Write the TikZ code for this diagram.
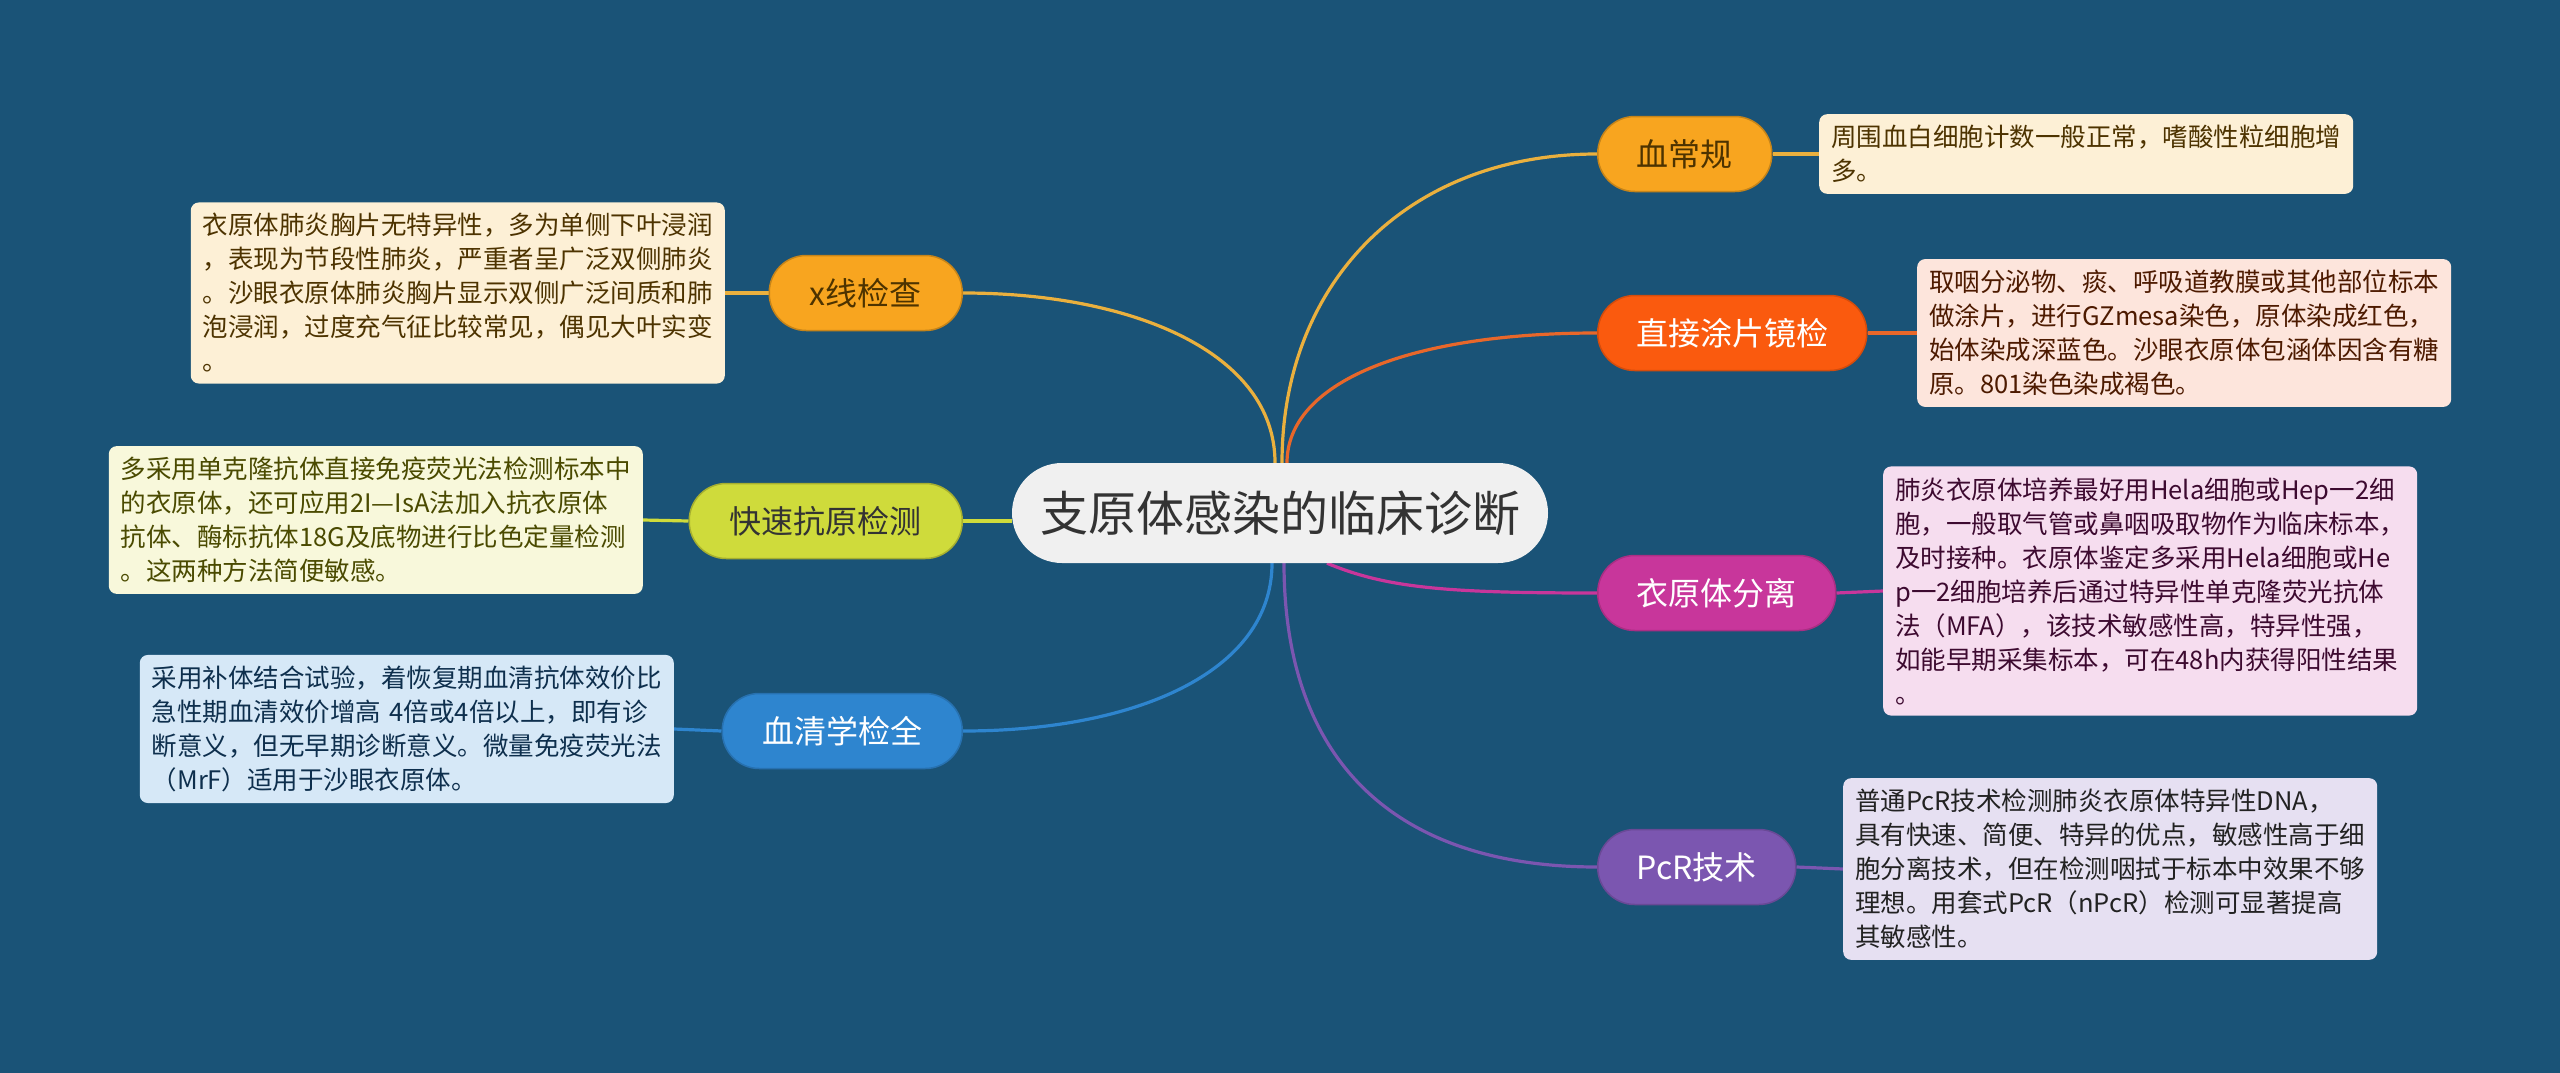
\documentclass[tikz,border=0pt]{standalone}
\usepackage{fontspec}
\setmainfont{Noto Sans CJK SC}
\pgfdeclarelayer{back}
\pgfdeclarelayer{lines}
\pgfsetlayers{back,lines,main}
\definecolor{bg}{HTML}{1A5377}
\definecolor{cyel}{HTML}{F8A51F}
\definecolor{lyel}{HTML}{EAB03E}
\definecolor{cora}{HTML}{FA5A0E}
\definecolor{lora}{HTML}{E8672A}
\definecolor{cmag}{HTML}{C8369B}
\definecolor{cpur}{HTML}{7B56B0}
\definecolor{clim}{HTML}{CFDB3B}
\definecolor{cblu}{HTML}{2E85CF}
\definecolor{fyel}{HTML}{FDF0D6}
\definecolor{fora}{HTML}{FDE5DC}
\definecolor{fmag}{HTML}{F6DDEF}
\definecolor{fpur}{HTML}{E6E0F2}
\definecolor{flim}{HTML}{F8F8DB}
\definecolor{fblu}{HTML}{D6E8F7}
\definecolor{tyel}{HTML}{4D3300}
\definecolor{tora}{HTML}{4D1A00}
\definecolor{tmag}{HTML}{3D0A30}
\definecolor{tpur}{HTML}{222222}
\definecolor{tlim}{HTML}{4A4A00}
\definecolor{tblu}{HTML}{0E2F4D}
\definecolor{cfill}{HTML}{F0F0F0}
\definecolor{ctext}{HTML}{333333}
\tikzset{
  pill/.style={rounded corners=37pt, minimum height=75pt, inner xsep=0pt,
    font=\fontsize{32}{38}\selectfont, line width=1.5pt},
  desc/.style={rounded corners=8pt, text width=510pt, align=left,
    inner xsep=12pt, inner ysep=11pt, font=\fontsize{25.5}{34}\selectfont},
  conn/.style={line width=3.2pt},
  link/.style={line width=3.2pt},
}
\begin{document}
\begin{tikzpicture}[x=1pt,y=-1pt]
\begin{pgfonlayer}{back}
\fill[bg] (0,0) rectangle (2560,1073);
\end{pgfonlayer}
\useasboundingbox (0,0) rectangle (2560,1073);

% central
\node[fill=cfill, text=ctext, rounded corners=50pt, minimum width=536pt, minimum height=100pt,
  font=\fontsize{48}{56}\selectfont] (c) at (1280,513) {支原体感染的临床诊断};

% right branches
\node[pill, fill=cyel, draw=cyel!80!black, text=tyel, minimum width=174pt, anchor=west] (xcg) at (1597,154) {血常规};
\node[pill, fill=cora, draw=cora!85!black, text=white, minimum width=269pt, anchor=west] (zj) at (1597,333) {直接涂片镜检};
\node[pill, fill=cmag, draw=cmag!85!black, text=white, minimum width=238pt, anchor=west] (fl) at (1597,593) {衣原体分离};
\node[pill, fill=cpur, draw=cpur!85!black, text=white, minimum width=198pt, anchor=west] (pcr) at (1597,867) {PcR技术};

% left branches
\node[pill, fill=cyel, draw=cyel!80!black, text=tyel, minimum width=193pt, anchor=east] (xx) at (963,293) {x线检查};
\node[pill, fill=clim, draw=clim!80!black, text=ctext, minimum width=273pt, anchor=east] (ks) at (963,521) {快速抗原检测};
\node[pill, fill=cblu, draw=cblu!85!black, text=white, minimum width=240pt, anchor=east] (xq) at (963,731) {血清学检全};

% descriptions right
\node[desc, fill=fyel, text=tyel, anchor=west] (d1) at (1819,154) {周围血白细胞计数一般正常，嗜酸性粒细胞增\\多。};
\node[desc, fill=fora, text=tora, anchor=west] (d2) at (1917,333) {取咽分泌物、痰、呼吸道教膜或其他部位标本\\做涂片，进行GZmesa染色，原体染成红色，\\始体染成深蓝色。沙眼衣原体包涵体因含有糖\\原。801染色染成褐色。};
\node[desc, fill=fmag, text=tmag, anchor=west] (d3) at (1883,591) {肺炎衣原体培养最好用Hela细胞或Hep一2细\\胞，一般取气管或鼻咽吸取物作为临床标本，\\及时接种。衣原体鉴定多采用Hela细胞或He\\p一2细胞培养后通过特异性单克隆荧光抗体\\法（MFA），该技术敏感性高，特异性强，\\如能早期采集标本，可在48h内获得阳性结果\\。};
\node[desc, fill=fpur, text=tpur, anchor=west] (d4) at (1843,869) {普通PcR技术检测肺炎衣原体特异性DNA，\\具有快速、简便、特异的优点，敏感性高于细\\胞分离技术，但在检测咽拭于标本中效果不够\\理想。用套式PcR（nPcR）检测可显著提高\\其敏感性。};

% descriptions left
\node[desc, fill=fyel, text=tyel, anchor=east] (dx) at (725,293) {衣原体肺炎胸片无特异性，多为单侧下叶浸润\\，表现为节段性肺炎，严重者呈广泛双侧肺炎\\。沙眼衣原体肺炎胸片显示双侧广泛间质和肺\\泡浸润，过度充气征比较常见，偶见大叶实变\\。};
\node[desc, fill=flim, text=tlim, anchor=east] (dk) at (643,520) {多采用单克隆抗体直接免疫荧光法检测标本中\\的衣原体，还可应用2I—IsA法加入抗衣原体\\抗体、酶标抗体18G及底物进行比色定量检测\\。这两种方法简便敏感。};
\node[desc, fill=fblu, text=tblu, anchor=east] (dq) at (674,729) {采用补体结合试验，着恢复期血清抗体效价比\\急性期血清效价增高 4倍或4倍以上，即有诊\\断意义，但无早期诊断意义。微量免疫荧光法\\（MrF）适用于沙眼衣原体。};

% anchor coordinates on the central node
\coordinate (s1) at ([xshift=2pt]c.north);
\coordinate (s2) at ([xshift=7pt]c.north);
\coordinate (s3) at ([xshift=-5pt]c.north);
\coordinate (s4) at (ks.east -| c.west);
\coordinate (s5) at ([xshift=47pt]c.south);
\coordinate (s6) at ([xshift=-8pt]c.south);
\coordinate (s7) at ([xshift=4pt]c.south);

\begin{pgfonlayer}{lines}
\draw[conn, lyel] (s1) .. controls +(0,-180) and +(-190,0) .. (xcg.west);
\draw[conn, lora] (s2) .. controls +(0,-80) and +(-190,0) .. (zj.west);
\draw[conn, lyel] (s3) .. controls +(0,-110) and +(170,0) .. (xx.east);
\draw[conn, clim] (s4) -- (ks.east);
\draw[conn, cmag] (s5) .. controls +(60,25) and +(-150,0) .. (fl.west);
\draw[conn, cblu] (s6) .. controls +(0,110) and +(170,0) .. (xq.east);
\draw[conn, cpur] (s7) .. controls +(0,200) and +(-200,0) .. (pcr.west);

\draw[link, lyel] (xcg.east) -- (d1.west);
\draw[link, lora] (zj.east) -- (d2.west);
\draw[link, cmag] (fl.east) -- (d3.west);
\draw[link, cpur] (pcr.east) -- (d4.west);
\draw[link, lyel] (xx.west) -- (dx.east);
\draw[link, clim] (ks.west) -- (dk.east);
\draw[link, cblu] (xq.west) -- (dq.east);
\end{pgfonlayer}
\end{tikzpicture}
\end{document}
